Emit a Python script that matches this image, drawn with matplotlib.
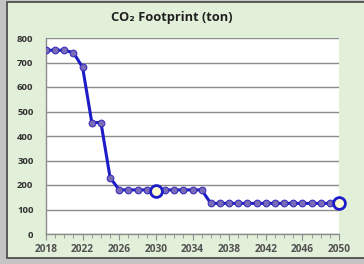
import matplotlib
matplotlib.use("Agg")
import matplotlib.pyplot as plt
from matplotlib.patches import Rectangle
from matplotlib.ticker import MultipleLocator

years = list(range(2018, 2051))
co2 = [750, 750, 750, 740, 680, 455, 455, 230] + [180] * 10 + [125] * 14 + [128]
highlight_years = [2030, 2050]
highlight_vals = [177, 128]

plt.rcParams['font.family'] = ['Open Sans', 'DejaVu Sans']

fig = plt.figure(figsize=(3.64, 2.64), dpi=100)
fig.patch.set_facecolor('#c4c4c4')
# green chart area with dark frame (right edge runs off the picture)
bg = Rectangle((6.5 / 364, 6 / 264), 380 / 364, 256 / 264, transform=fig.transFigure,
               facecolor='#e2f0da', edgecolor='#505050', linewidth=1.3, zorder=-5)
fig.patches.append(bg)

ax = fig.add_axes([46 / 364, 30 / 264, 293 / 364, 196 / 264])
ax.set_facecolor('white')

ax.plot(years, co2, '-', color='#1c1cc8', linewidth=2.2, marker='o', markersize=4.8,
        markerfacecolor='#7a6cb4', markeredgecolor='#3a30c0', markeredgewidth=0.8, zorder=3)
ax.plot(highlight_years, highlight_vals, 'o', markersize=8.5, markerfacecolor='#fdfbd0',
        markeredgecolor='#1c1cc8', markeredgewidth=2, zorder=4, clip_on=False)

ax.set_xlim(2018, 2050)
ax.set_ylim(0, 800)
ax.set_xticks(range(2018, 2051, 4))
ax.xaxis.set_minor_locator(MultipleLocator(1))
ax.set_yticks(range(0, 801, 100))
ax.grid(axis='y', color='#8c8c8c', linewidth=1)
ax.set_axisbelow(True)

for s in ['top', 'right']:
    ax.spines[s].set_visible(False)
for s in ['left', 'bottom']:
    ax.spines[s].set_color('#8c8c8c')
    ax.spines[s].set_linewidth(1)

ax.tick_params(axis='y', length=0, pad=9, labelsize=6.8, labelcolor='#303030')
ax.tick_params(axis='x', which='major', direction='out', length=4, color='#8c8c8c',
               labelsize=7.3, labelcolor='#505050', pad=3)
ax.tick_params(axis='x', which='minor', direction='out', length=3, color='#8c8c8c')
for lab in ax.get_yticklabels() + ax.get_xticklabels():
    lab.set_fontweight('bold')

fig.text(172 / 364, 1 - 17 / 264, 'CO₂ Footprint (ton)', ha='center', va='center',
         fontsize=9.3, fontweight='bold', color='#202020')

fig.savefig('out.png', dpi=100, facecolor=fig.get_facecolor())
